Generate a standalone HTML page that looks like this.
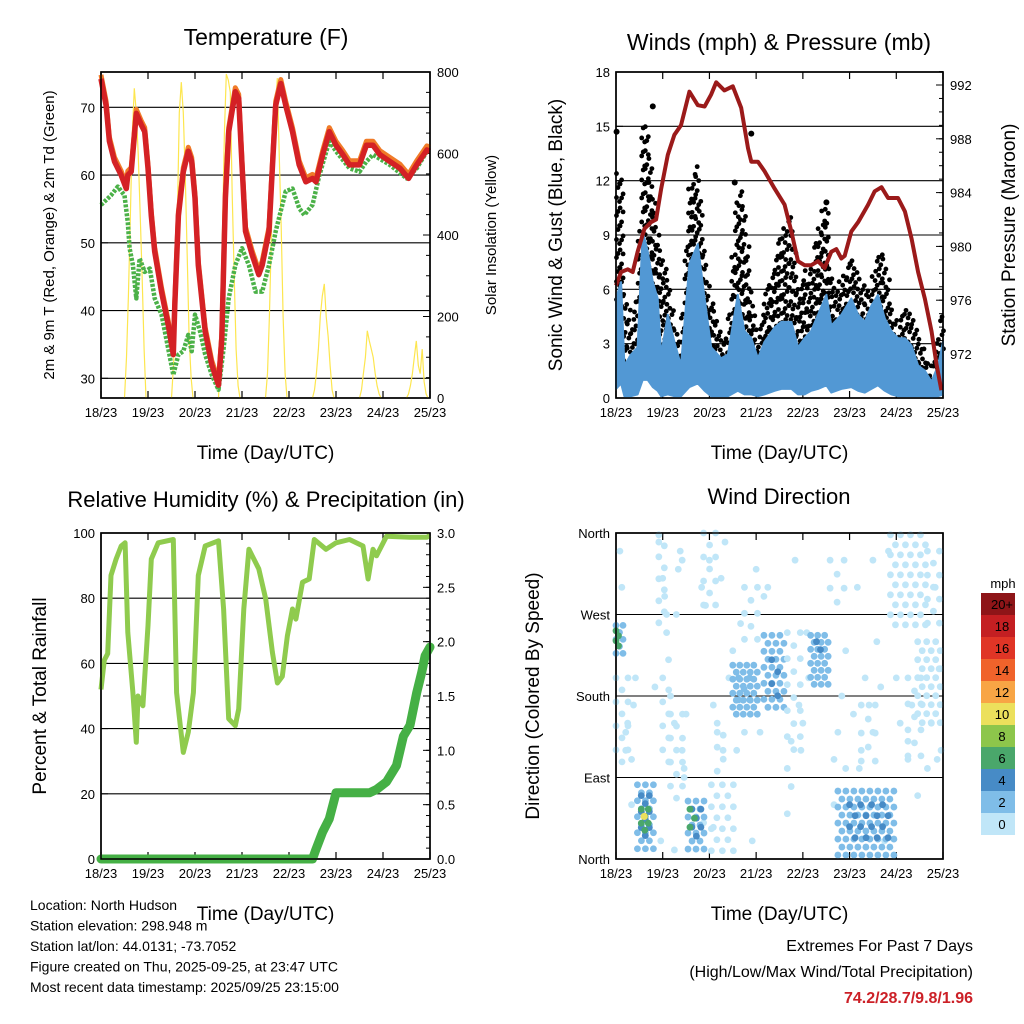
<!DOCTYPE html>
<html><head><meta charset="utf-8"><style>
body{margin:0;background:#fff;}
svg{display:block;font-family:"Liberation Sans",sans-serif;}
</style></head><body>
<svg id="s" width="1024" height="1024" viewBox="0 0 1024 1024" xmlns="http://www.w3.org/2000/svg">
<rect width="1024" height="1024" fill="#fff"/>
<g id="g"></g>
</svg>
<script>
// ---------- DATA ----------
const dayLabels=["18/23","19/23","20/23","21/23","22/23","23/23","24/23","25/23"];
const tempHours=[0,2.6,4.3,6.9,10.3,12.9,13.7,15.4,18,20.6,22.3,24,25.7,27.4,30.9,34.3,36.9,37.7,39.5,42,44.6,46.3,48,49.7,53.2,56.6,60,61.7,63.5,65.2,68.6,70.3,72,73.8,77.2,80.6,82.3,85.8,89.2,91.8,94.3,97.8,101.2,104.6,108,109.8,113.2,116.6,120,123.5,126.9,132,135.5,138.9,142.4,147.5,152.7,157,161.2,166.4,168];
const tempVals=[74.2,70.3,65,62,60,58,60,60.5,69.1,67.4,66.4,61,54,48.7,42.8,37.9,33.5,40.8,54,60.5,63.5,62,56.6,46.7,36.9,32,29,35.9,56.6,66.4,72.3,71.3,61.5,51.7,48.2,45.3,46.7,51.7,70.3,73.5,70.3,66.4,61.5,59,59.5,59,63,66.4,64.4,63,61.5,61.5,64.4,64.4,63,62,61,59.5,61.5,63.7,63.5];
const dewHours=[0,5.1,8.6,12,13.7,14.6,16.3,18,19.7,22.3,24.9,27.4,30.9,34.3,36.9,39.5,42,44.6,46.3,48,50.6,53.2,56.6,60,62.6,65.2,68.6,72,75.5,78.9,82.3,85.8,89.2,94.3,97.8,101.2,103.8,108,111.5,116.6,120,126.9,132,135.5,138.9,147.5,156.1,161.2,166.4];
const dewVals=[55.6,57,58.3,57,53,49.2,46.7,41.8,47.7,45.7,46.2,41.8,39.4,34.4,30.5,33.5,34,36.4,34,39.4,36.9,33.5,30.5,28.3,34.4,41.8,46.7,49.2,46.7,42.8,42.8,46.7,51.7,57.6,58,55.1,54.1,55.6,60,65,63.5,61,60.5,62,63,61.5,59.5,61,63.5];
const solarDays=[[0,100,250,450,650,760,700,600,450,300,120,0],[0,80,200,450,700,775,700,550,350,150,50,0],[0,120,400,650,795,780,750,500,300,120,30,0],[0,60,200,400,600,700,785,600,420,200,60,0],[0,20,60,120,200,250,280,200,150,80,20,0],[0,20,60,100,165,140,120,100,60,30,10,0],[0,10,30,60,100,140,80,60,120,40,10,0]];

const windHours=[0,2.6,4.3,7.7,11.1,13.7,16.3,18.9,21.4,23.2,26.6,30,33.4,37.7,42,45.5,48.9,54,57.5,62.6,66,69.5,72.9,76.3,81.5,84.9,90.1,93.5,96.9,100.3,103.8,108.1,110.6,115.8,120.9,124.4,127.8,131.2,134.6,138.1,141.5,144.9,148.4,151.8,155.2,158.7,162.1,165.5,168];
const windHigh=[5.5,6.4,1.8,2.4,2.8,9.2,8.1,6.4,5.5,2.4,4.6,3.1,1.8,7.4,8.5,5.5,2.8,2.2,2.4,5.7,3.7,3.3,2.2,3.1,3.9,4.2,4.2,2.8,3.3,3.7,4.6,5.7,4,4.6,5.5,4.6,4.2,5.1,5.7,4.4,3.7,3.3,3.3,2.9,1.8,1.5,0.9,1.8,3.1];
const windLow=[0.5,0.8,0.1,0.1,0.2,1,1,0.6,0.4,0.1,0.2,0.1,0.1,0.6,0.8,0.4,0.1,0.1,0.1,0.4,0.2,0.2,0.1,0.2,0.4,0.5,0.5,0.2,0.2,0.4,0.5,0.7,0.3,0.5,0.6,0.4,0.3,0.5,0.7,0.4,0.2,0.1,0.1,0.1,0.1,0.1,0,0.1,0.2];
const gustVals=[12,13.4,6,4.2,5.5,15,14.8,12,9,8.1,7,4,3,11.6,13,8,5.5,3.5,3.2,11.9,10.7,6,3.1,5.6,7.4,9.2,10.3,6,7,6.8,9.4,10.8,6.5,6.2,8.1,6.6,6.2,5.9,8.3,7.6,5.2,3.7,5,4.8,3.9,2.4,1.8,3.3,5];
const gustOutHours=[0.3,18.9,69.5,108.1,61];
const gustOutVals=[14.7,16.1,14.6,10.8,11.9];
const presHours=[0,2.6,6,8.6,11.1,14.6,18,20.6,23.2,26.6,30,33.4,37.7,42,45.5,48.9,51.5,55.7,60,64.3,67.8,69.5,72.9,76.3,81.5,86.6,90.1,93.5,96.9,100.3,103.8,107.2,110.6,113.2,115.8,117.5,120.9,124.4,129.5,132.9,136.4,139.8,144.9,148.4,151.8,155.2,158.7,162.1,164.7,167.2];
const presVals=[977.1,978.1,978.3,978.1,979.6,981.3,981.8,982,984.3,986.8,988.3,989,991.5,990.5,990.4,991.3,992.2,991.6,991.9,990.3,987.3,986.3,986.3,985.6,984.3,983.1,981.1,978.9,978.6,978.6,978.9,978.4,979.6,979.8,979.1,979.3,981.1,981.8,983.1,984.1,984.4,983.6,983.6,982.6,980.6,978.1,976.1,973.7,971.2,969.3];

const rhHours=[0,1.7,3.4,5.1,7.7,10.3,12.3,13.7,16.3,18,18.9,21.4,24,25.7,29.2,36.9,38.6,42,44.6,47.2,49.7,53.2,60,62.6,65.2,68.6,70.3,72.9,75.5,80.6,84.1,87.5,90.1,92.6,95.2,97.8,99.5,102.9,106.3,108.9,114.9,120,126.9,133.8,136.4,138.9,140.7,145.8,157.8,166.4,168];
const rhVals=[52,61,63,87,92,96,97,69.5,51,35.8,50,47,71.6,92,97,98,51,32.7,38.9,51,87,96,97.6,76.7,43,40.9,46,76.7,95,89,79.8,63.4,54,56,68.5,76.7,73.6,84.9,85.9,98,95,97,98,96,85.9,95,93,99,98.7,98.7,99.3];
const rainHours=[0,108,109.8,113.2,116.6,119.2,120,137.2,140.7,145.8,150.9,154.4,157.8,161.2,163.8,165.5,168];
const rainVals=[0,0,0.09,0.25,0.37,0.55,0.61,0.61,0.64,0.71,0.86,1.13,1.23,1.53,1.72,1.87,1.95];

// direction clusters: [hourStart, hourEnd, degLow, degHigh, speed, stepPx]
const dirClusters=[[0,4,222,258,3,7],[0,1.5,235,252,7,5],[11,21,5,82,3,8],[13,19,20,70,4.5,8],[13,17,30,55,7,7],[37,47,9,64,3,8],[39,45,20,55,4.5,9],[38,42,35,55,7,9],[49,62,2,82,1,11],[60,73,155,214,2.5,7],[63,70,170,200,3.5,11],[76,87,163,247,2.5,8],[80,86,180,220,4.5,12],[100,110,192,247,2.5,7],[103,107,225,240,4.5,8],[114,143,2,75,2.5,8],[120,140,20,60,4.5,11],[141,159,258,358,1,10],[155,167,148,240,1,9],[22,26,250,358,1,11],[24,30,100,200,1,12],[45,52,280,360,1,12],[28,36,60,160,1,12],[88,96,120,250,1,13],[110,118,270,330,1,14],[150,160,100,200,1,13],[160,168,260,340,1,12],[0,8,100,200,1,12],[52,58,90,150,1,12],[66,76,230,300,1,13],[126,136,100,170,1,14]];
const dirScatterHours=[2,3,5,6,8,9,10,22,24,25,26,27,28,30,31,32,33,34,35,36,44,46,48,50,52,54,56,58,60,62,64,72,74,76,88,90,92,94,96,98,99,112,114,116,118,122,124,126,128,130,132,134,136,140,144,146,150,152,160,162,164,166,167,5,26,30,45,50,70,88,95,112,125,132,150,165,8,23,35,55,66,78,90,118,138,155,20,34];
const dirScatterDegs=[340,300,120,150,110,170,200,350,310,290,250,220,180,150,270,320,340,120,100,160,300,280,330,170,140,310,350,200,230,120,260,320,140,290,100,130,330,170,150,250,200,110,140,180,230,160,300,120,200,170,140,240,190,340,200,150,110,170,100,150,300,210,120,140,270,10,40,35,20,50,120,60,100,330,130,110,60,20,90,120,140,300,80,100,20,70,190,330];
const cbLabels=["20+","18","16","14","12","10","8","6","4","2","0"];
const cbColors=["#8e1518","#c41f22","#e03526","#f0632b","#f8a545","#ece05c","#8dc64b","#4aa76b","#478bc6","#7fbde8","#c0e6f8"];

// ---------- HELPERS ----------
const NS="http://www.w3.org/2000/svg";
const G=document.getElementById('g');
function el(tag,attrs,parent,txt){const e=document.createElementNS(NS,tag);for(const k in attrs)e.setAttribute(k,attrs[k]);if(txt!==undefined)e.textContent=txt;(parent||G).appendChild(e);return e;}
function lin(d0,d1,r0,r1){return v=>r0+(v-d0)*(r1-r0)/(d1-d0);}
function pathOf(xs,ys,fx,fy){return xs.map((h,i)=>(i?'L':'M')+fx(h).toFixed(1)+','+fy(ys[i]).toFixed(1)).join('');}
function interp(xs,ys,h){if(h<=xs[0])return ys[0];for(let i=1;i<xs.length;i++){if(h<=xs[i]){const t=(h-xs[i-1])/(xs[i]-xs[i-1]);return ys[i-1]+t*(ys[i]-ys[i-1]);}}return ys[ys.length-1];}
function speedColor(s){return s>=20?cbColors[0]:s>=18?cbColors[1]:s>=16?cbColors[2]:s>=14?cbColors[3]:s>=12?cbColors[4]:s>=10?cbColors[5]:s>=8?cbColors[6]:s>=6?cbColors[7]:s>=4?cbColors[8]:s>=2?cbColors[9]:cbColors[10];}

function frame(x0,x1,y0,y1,name){
  const g=el('g',{});
  
  
  el('rect',{x:x0,y:y0,width:x1-x0,height:y1-y0,fill:'none',stroke:'#000','stroke-width':1.5},g);
  const fx=lin(0,168,x0,x1);
  for(let d=0;d<8;d++){
    const x=fx(d*24);
    el('line',{x1:x,x2:x,y1:y1,y2:y1-7,stroke:'#000','stroke-width':1.2},g);
    el('line',{x1:x,x2:x,y1:y0,y2:y0+7,stroke:'#000','stroke-width':1.2},g);
    const t=el('text',{x:x,y:y1+19,'font-size':13,'text-anchor':'middle'},g,dayLabels[d]);
    
    
  }
  const xt=el('text',{x:(x0+x1)/2,y:y1+61,'font-size':19,'text-anchor':'middle'},g,'Time (Day/UTC)');
  
  
  return fx;
}
function leftTicks(x0,x1,fy,vals,labels,grid){
  vals.forEach((v,i)=>{const y=fy(v);
    if(grid)el('line',{x1:x0,x2:x1,y1:y,y2:y,stroke:'#000','stroke-width':1.1});
    el('line',{x1:x0,x2:x0+7,y1:y,y2:y,stroke:'#000'});
    const t=el('text',{x:x0-6,y:y+5,'font-size':13,'text-anchor':'end'},G,labels[i]);
    
    });
}
function rightTicks(x1,fy,vals,labels,minor){
  vals.forEach((v,i)=>{const y=fy(v);
    el('line',{x1:x1,x2:x1-7,y1:y,y2:y,stroke:'#000'});
    const t=el('text',{x:x1+7,y:y+5,'font-size':13},G,labels[i]);
    
    });
  minor.forEach(v=>{const y=fy(v);el('line',{x1:x1,x2:x1-4,y1:y,y2:y,stroke:'#000'});});
}
function title(x,y,txt,size,name){const t=el('text',{x:x,y:y,'font-size':size,'text-anchor':'middle'},G,txt);return t;}
function vtitle(x,y,txt,size,name){const t=el('text',{x:x,y:y,'font-size':size,'text-anchor':'middle',transform:`rotate(-90 ${x} ${y})`},G,txt);}

// ---------- PANEL 1: TEMPERATURE ----------
(function(){
  const x0=101,x1=430,y0=72,y1=398;
  const fy=lin(30,70,378.3,107.3), fs=lin(0,800,398,72);
  title(266,45,'Temperature (F)',23,'temperature-title');
  leftTicks(x0,x1,fy,[30,40,50,60,70],['30','40','50','60','70'],true);
  const fx=frame(x0,x1,y0,y1,'temperature');
  const mn=[];for(let v=0;v<=800;v+=50)mn.push(v);
  rightTicks(x1,fs,[0,200,400,600,800],['0','200','400','600','800'],mn);
  let d='';
  solarDays.forEach((arr,di)=>{arr.forEach((w,i)=>{d+=(i?'L':'M')+fx(di*24+12+i).toFixed(1)+','+fs(w).toFixed(1);});});
  const so=el('path',{d:d,fill:'none',stroke:'#fde64f','stroke-width':1.2});
  
  
  const dw=el('path',{d:pathOf(dewHours,dewVals,fx,fy),fill:'none',stroke:'#4bb148','stroke-width':4.5,'stroke-dasharray':'3 1.5','stroke-linejoin':'round'});
  
  
  const tOr=el('path',{d:pathOf(tempHours,tempVals.map(v=>v+0.6),fx,fy),fill:'none',stroke:'#f07b28','stroke-width':5,'stroke-linejoin':'round'});
  
  
  const tr=el('path',{d:pathOf(tempHours,tempVals,fx,fy),fill:'none',stroke:'#d42125','stroke-width':5.5,'stroke-linejoin':'round'});
  
  
  el('rect',{x:x0,y:y0,width:x1-x0,height:y1-y0,fill:'none',stroke:'#000','stroke-width':1.5});
  vtitle(54,235,'2m & 9m T (Red, Orange) & 2m Td (Green)',15,'temperature-y-axis-title');
  vtitle(496,235,'Solar Insolation (Yellow)',15,'solar-y-axis-title');
})();

// ---------- PANEL 2: WINDS ----------
(function(){
  const x0=616,x1=943,y0=72,y1=398;
  const fy=lin(0,18,398,72), fp=lin(972,992,354,85);
  title(779,50,'Winds (mph) & Pressure (mb)',23,'winds-title');
  leftTicks(x0,x1,fy,[0,3,6,9,12,15,18],['0','3','6','9','12','15','18'],true);
  const fx=frame(x0,x1,y0,y1,'winds');
  const mn=[];for(let v=969;v<=993;v++)mn.push(v);
  rightTicks(x1,fp,[972,976,980,984,988,992],['972','976','980','984','988','992'],mn);
  const gg=el('g',{fill:'#000'});
  
  
  let k=0;
  for(let x=x0+2;x<x1;x+=3.6){
    const h=(x-x0)/(x1-x0)*168;
    const g=interp(windHours,gustVals,h), w=interp(windHours,windHigh,h);
    const top=fy(g), bot=fy(w*0.9);
    for(let y=bot;y>=top;y-=7){el('circle',{cx:x+((k++)%3-1)*1.5,cy:y-((k%2)*3),r:2.4},gg);}
  }
  gustOutHours.forEach((h,i)=>el('circle',{cx:fx(h),cy:fy(gustOutVals[i]),r:3},gg));
  const up=windHours.map((h,i)=>fx(h).toFixed(1)+','+fy(windHigh[i]).toFixed(1));
  const lo=windHours.map((h,i)=>fx(h).toFixed(1)+','+fy(windLow[i]).toFixed(1)).reverse();
  const wb=el('polygon',{points:up.concat(lo).join(' '),fill:'#5298d4',stroke:'#5298d4','stroke-width':2,'stroke-linejoin':'round'});
  
  
  const pr=el('path',{d:pathOf(presHours,presVals,fx,fp),fill:'none',stroke:'#9b1a1a','stroke-width':4,'stroke-linejoin':'round'});
  
  
  el('rect',{x:x0,y:y0,width:x1-x0,height:y1-y0,fill:'none',stroke:'#000','stroke-width':1.5});
  vtitle(562,235,'Sonic Wind & Gust (Blue, Black)',19,'wind-y-axis-title');
  vtitle(1015,235,'Station Pressure (Maroon)',19,'pressure-y-axis-title');
})();

// ---------- PANEL 3: RH ----------
(function(){
  const x0=101,x1=430,y0=533,y1=859;
  const fy=lin(0,100,859,533), fr=lin(0,3,859,533);
  title(266,507,'Relative Humidity (%) & Precipitation (in)',22,'humidity-title');
  leftTicks(x0,x1,fy,[0,20,40,60,80,100],['0','20','40','60','80','100'],true);
  const fx=frame(x0,x1,y0,y1,'humidity');
  const mn=[];for(let v=0;v<=30;v++)mn.push(v/10);
  rightTicks(x1,fr,[0,0.5,1,1.5,2,2.5,3],['0.0','0.5','1.0','1.5','2.0','2.5','3.0'],mn);
  const rh=el('path',{d:pathOf(rhHours,rhVals,fx,fy),fill:'none',stroke:'#8fcb4e','stroke-width':5,'stroke-linejoin':'round'});
  
  
  const rn=el('path',{d:pathOf(rainHours,rainVals,fx,fr),fill:'none',stroke:'#45b045','stroke-width':9,'stroke-linejoin':'round','stroke-linecap':'round'});
  
  
  el('rect',{x:x0,y:y0,width:x1-x0,height:y1-y0,fill:'none',stroke:'#000','stroke-width':1.5});
  vtitle(46,696,'Percent & Total Rainfall',19,'humidity-y-axis-title');
})();

// ---------- PANEL 4: WIND DIRECTION ----------
(function(){
  const x0=616,x1=943,y0=533,y1=859;
  const fy=lin(0,360,859,533);
  title(779,504,'Wind Direction',22,'wind-direction-title');
  leftTicks(x0,x1,fy,[0,90,180,270,360],['North','East','South','West','North'],true);
  const fx=frame(x0,x1,y0,y1,'wind-direction');
  const gd=el('g',{});
  
  
  dirScatterHours.forEach((h,i)=>el('circle',{cx:fx(h),cy:fy(dirScatterDegs[i]),r:3.4,fill:cbColors[10]},gd));
  dirClusters.forEach(c=>{
    const xa=fx(c[0]),xb=fx(c[1]),ya=fy(c[3]),yb=fy(c[2]);let r=0;
    for(let y=ya;y<=yb;y+=c[5]){for(let x=xa+(r%2)*c[5]/2;x<=xb;x+=c[5]){el('circle',{cx:x,cy:y,r:3.4,fill:speedColor(c[4])},gd);}r++;}
  });
  el('circle',{cx:fx(14.5),cy:fy(47),r:3.6,fill:cbColors[5]},gd);
  el('rect',{x:x0,y:y0,width:x1-x0,height:y1-y0,fill:'none',stroke:'#000','stroke-width':1.5});
  vtitle(539,696,'Direction (Colored By Speed)',19,'direction-y-axis-title');
  const cb=el('g',{});
  
  
  el('text',{x:1003,y:588,'font-size':13,'text-anchor':'middle'},cb,'mph');
  cbColors.forEach((c,i)=>{
    el('rect',{x:981,y:593+i*22,width:34,height:22,fill:c},cb);
    el('text',{x:1002,y:609+i*22,'font-size':13,'text-anchor':'middle'},cb,cbLabels[i]);
  });
})();

// ---------- FOOTER ----------
const info=["Location: North Hudson","Station elevation: 298.948 m","Station lat/lon: 44.0131; -73.7052","Figure created on Thu, 2025-09-25, at 23:47 UTC","Most recent data timestamp: 2025/09/25 23:15:00"];
info.forEach((s,i)=>{const t=el('text',{x:30,y:910+i*20.5,'font-size':14},G,s);});
const e1=el('text',{x:973,y:951,'font-size':16,'text-anchor':'end'},G,'Extremes For Past 7 Days');


const e2=el('text',{x:973,y:977,'font-size':16,'text-anchor':'end'},G,'(High/Low/Max Wind/Total Precipitation)');


const e3=el('text',{x:973,y:1003,'font-size':16,'font-weight':'bold',fill:'#cc2027','text-anchor':'end'},G,'74.2/28.7/9.8/1.96');


</script>
</body></html>
